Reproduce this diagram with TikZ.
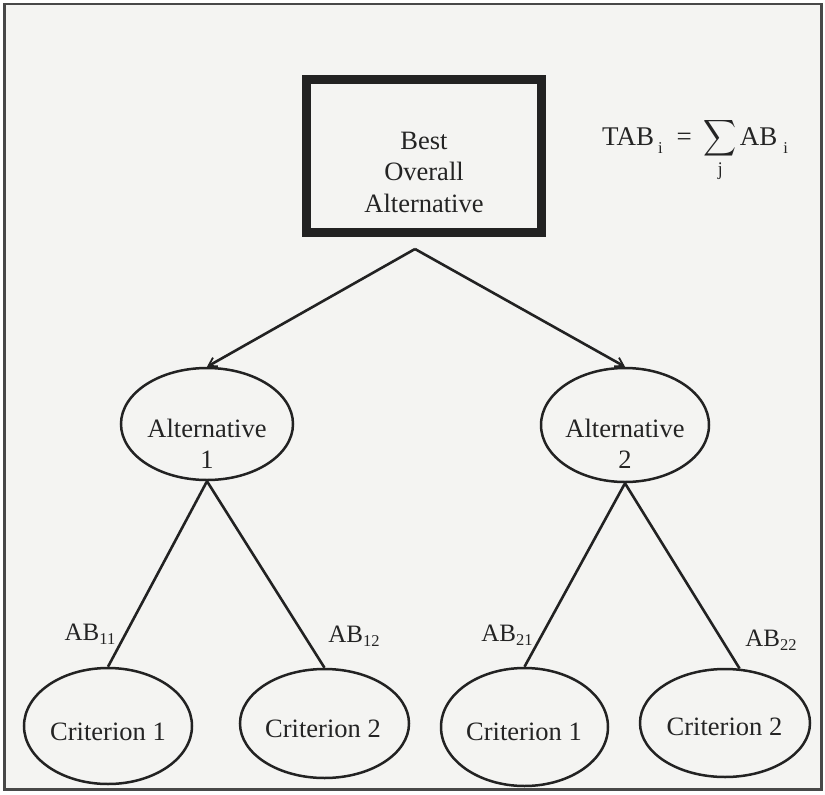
\documentclass[tikz,border=0pt]{standalone}
\usepackage{fontspec}
\usepackage{amsmath}
\usepackage{graphicx}
\setmainfont{Liberation Serif}
\usetikzlibrary{shapes.geometric,arrows.meta,calc}

\definecolor{ink}{HTML}{222222}
\definecolor{txt}{HTML}{242424}
\definecolor{paper}{HTML}{F4F4F2}
\definecolor{framecol}{HTML}{484848}

% lowered small index used in the labels and the formula
\newcommand\lowsub[2][-6pt]{\raisebox{#1}{\fontsize{16.5}{16.5}\selectfont #2}}

\begin{document}
\begin{tikzpicture}[x=1pt,y=-1pt,
  every node/.style={text=txt},
  bigtext/.style={font=\fontsize{26.5}{31.5}\selectfont, align=center, inner sep=0pt},
  abtext/.style={font=\fontsize{25}{29}\selectfont, inner sep=0pt},
  topbox/.style={draw=ink, line width=9pt, rectangle, inner sep=0pt,
    minimum width=235pt, minimum height=153pt},
  oval/.style={draw=ink, line width=2.5pt, ellipse, inner sep=0pt},
  link/.style={draw=ink, line width=2.6pt},
  arrowlink/.style={link, -{Straight Barb[length=8pt,width=10pt,line width=1.8pt]}}
]
\useasboundingbox (0,0) rectangle (825,795);
\fill[white] (0,0) rectangle (825,795);
\draw[framecol, line width=2.8pt, fill=paper] (4.5,4) rectangle (821.5,789.5);

% top decision node
\node[topbox] (best) at (424,156) {};
\node[bigtext] (besttxt) at (424,172) {Best\\Overall\\Alternative};

% formula
\node[font=\fontsize{27}{32}\selectfont, inner sep=0pt, anchor=base west] (formula) at (602,145)
  {TAB\kern4pt\lowsub[-8pt]{i}\kern14pt=\kern12pt\scalebox{0.92}[1.02]{$\displaystyle\sum_{\text{j}}$}\kern3pt AB\kern6pt\lowsub[-8pt]{i}};

% alternatives
\node[oval, minimum width=172pt, minimum height=112pt] (alt1) at (207,424) {};
\node[bigtext] (alt1txt) at (207,444) {Alternative\\1};
\node[oval, minimum width=168pt, minimum height=114pt] (alt2) at (625,425) {};
\node[bigtext] (alt2txt) at (625,444) {Alternative\\2};

% criteria
\node[oval, minimum width=168pt, minimum height=116pt] (c11) at (108,726) {};
\node[bigtext] (c11txt) at (108,732) {Criterion 1};
\node[oval, minimum width=169pt, minimum height=109pt] (c12) at (324.5,723.5) {};
\node[bigtext] (c12txt) at (323,729) {Criterion 2};
\node[oval, minimum width=167pt, minimum height=118pt] (c21) at (524.5,727) {};
\node[bigtext] (c21txt) at (524,732) {Criterion 1};
\node[oval, minimum width=170pt, minimum height=108pt] (c22) at (725,723) {};
\node[bigtext] (c22txt) at (724.5,727) {Criterion 2};

% connectors
\coordinate (apex) at ([xshift=-9pt,yshift=-12pt]best.south);
\draw[arrowlink] (apex) -- (alt1.north);
\draw[arrowlink] (apex) -- (alt2.north);
\draw[link] (alt1.south) -- (c11.north);
\draw[link] (alt1.south) -- (c12.north);
\draw[link] (alt2.south) -- (c21.north);
\draw[link] (alt2.south) -- (c22.75);

% branch weights
\node[abtext] (ab11) at (90,634) {AB\lowsub[-4pt]{11}};
\node[abtext] (ab12) at (354,636) {AB\lowsub[-4pt]{12}};
\node[abtext] (ab21) at (507,635) {AB\lowsub[-4pt]{21}};
\node[abtext] (ab22) at (771,640) {AB\lowsub[-4pt]{22}};
\end{tikzpicture}
\end{document}
